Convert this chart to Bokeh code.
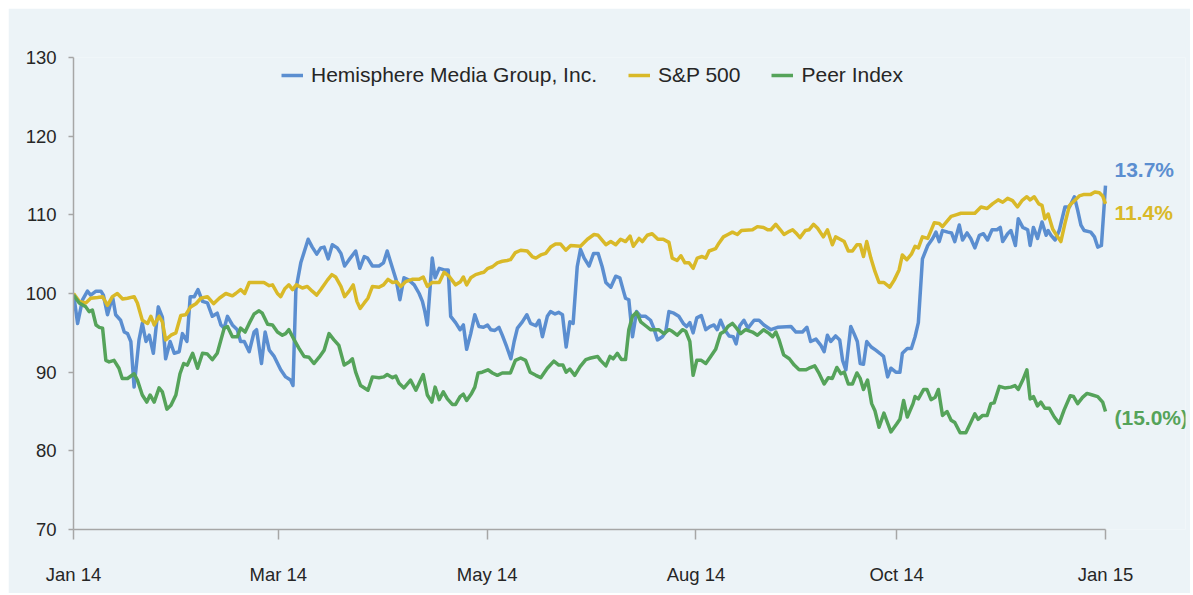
from bokeh.plotting import figure
from bokeh.models import Range1d, FixedTicker, Legend, LegendItem, ColumnDataSource
from bokeh.core.properties import value
from bokeh.embed import file_html
from bokeh.resources import INLINE

# ---- data (x = trading-day index from 31 Dec 2013, value indexed to 100) ----
TICK_POS = [0, 50, 101, 152, 201, 252]
TICK_LABELS = ["Jan 14", "Mar 14", "May 14", "Aug 14", "Oct 14", "Jan 15"]

SERIES_NAMES = ["Hemisphere Media Group, Inc.", "S&P 500", "Peer Index"]
END_LABELS = ["13.7%", "11.4%", "(15.0%)"]

hmtv_day = [0, 1, 2.2, 3.4, 4.2, 5.5, 6.7, 7.3, 8.3, 9.1, 9.6, 10.3, 11.5, 12.4, 13.2, 14.0, 14.8, 16.0, 16.8,
            17.7, 18.5, 19.5, 20.7, 21.7, 22.5, 23.6, 24.6, 25.8, 26.6, 27.7, 28.5, 29.5, 30.4, 31.5, 32.7,
            33.9, 35.1, 36.0, 36.8, 37.6, 38.8, 40.0, 40.8, 41.7, 42.9, 44.1, 44.7, 45.9, 46.8, 47.8, 49.0,
            50.6, 51.8, 53.0, 53.6, 54.3, 55.5, 57.3, 58.3, 59.4, 60.4, 61.2, 62.2, 63.2, 64.4, 65.3, 66.2,
            67.3, 68.9, 69.9, 71.0, 71.8, 73.0, 74.6, 75.7, 76.6, 77.9, 78.8, 79.7, 80.7, 81.9, 83.2, 84.4,
            85.2, 85.8, 86.4, 87.1, 87.6, 88.3, 89.3, 90.5, 91.5, 92.1, 93.3, 94.4, 95.2, 96.0, 97.0, 98.0,
            99.0, 100.1, 101.1, 101.9, 102.9, 103.9, 104.7, 105.8, 106.8, 107.6, 108.4, 109.6, 110.7, 111.6,
            112.9, 113.7, 114.5, 115.7, 116.5, 117.6, 118.5, 119.4, 120.3, 121.2, 122.0, 123.0, 123.8, 124.7,
            125.9, 127.0, 128.1, 129.1, 130.0, 131.2, 132.4, 133.4, 134.3, 134.8, 135.6, 136.5, 137.5, 138.5,
            139.7, 140.9, 141.7, 142.6, 143.8, 144.6, 145.4, 146.6, 147.8, 148.9, 149.7, 150.5, 151.3, 152.2,
            153.3, 154.4, 155.4, 156.4, 157.2, 158.0, 159.0, 160.1, 161.1, 161.8, 162.7, 163.7, 164.7, 166.2,
            167.4, 168.6, 170.3, 171.9, 175.2, 176.4, 178.0, 179.1, 180.0, 181.3, 182.5, 183.3, 184.1, 184.9,
            186.1, 187.1, 187.8, 188.6, 189.8, 190.6, 191.4, 192.1, 192.9, 193.7, 194.8, 195.9, 196.9, 197.8,
            198.8, 199.6, 200.8, 201.8, 202.4, 203.6, 204.6, 205.5, 206.3, 207.3, 208.6, 209.8, 210.6, 211.4,
            212.2, 213.5, 214.4, 215.2, 216.3, 217.1, 218.2, 219.1, 220.1, 221.2, 222.2, 223.2, 224.3, 225.5,
            226.3, 226.9, 228.1, 228.9, 230.0, 230.7, 231.8, 233.0, 233.6, 234.4, 235.4, 236.5, 237.5, 238.0,
            238.7, 239.7, 240.7, 242.1, 243.2, 244.4, 245.2, 246.0, 246.8, 248.4, 249.3, 250.1, 251.0, 251.7,
            252.0]
hmtv_val = [100.0, 96.2, 99.2, 100.3, 99.8, 100.3, 100.3, 99.8, 97.3, 98.8, 99.4, 97.3, 96.6, 95.1, 94.9, 93.9,
            88.1, 94.1, 96.2, 93.9, 94.7, 92.4, 98.3, 97.0, 91.7, 93.9, 92.4, 92.6, 94.9, 93.9, 99.6, 99.6,
            100.5, 99.0, 98.8, 97.1, 97.5, 96.0, 95.6, 97.1, 96.0, 95.4, 93.9, 93.9, 92.6, 95.1, 95.4, 91.1,
            95.1, 92.8, 92.0, 90.3, 89.4, 89.0, 88.3, 100.5, 103.9, 106.9, 105.9, 105.0, 105.8, 105.9, 104.4,
            106.2, 105.8, 105.1, 103.5, 104.3, 105.4, 103.2, 104.7, 104.5, 103.5, 103.5, 103.9, 105.4, 103.2,
            101.7, 99.2, 102.0, 101.7, 101.1, 100.0, 99.0, 97.7, 96.0, 100.9, 104.5, 102.0, 103.2, 103.0, 103.0,
            97.1, 96.3, 95.4, 96.0, 92.9, 94.9, 97.3, 95.8, 95.7, 96.0, 95.4, 95.3, 95.7, 94.7, 93.2, 91.7,
            93.9, 95.6, 96.4, 97.3, 96.2, 95.9, 96.6, 94.5, 97.1, 97.7, 97.4, 97.6, 97.3, 93.2, 96.4, 96.2,
            103.4, 105.6, 104.5, 103.5, 105.1, 105.1, 103.4, 101.4, 100.8, 102.2, 102.0, 100.3, 99.4, 99.2,
            94.5, 97.7, 97.1, 97.1, 96.6, 95.6, 94.1, 94.5, 95.1, 97.7, 97.5, 97.1, 96.2, 95.8, 96.3, 95.0,
            96.9, 97.2, 95.4, 95.8, 96.0, 95.4, 96.6, 95.4, 94.6, 94.5, 93.6, 95.9, 96.6, 95.6, 96.6, 96.6,
            96.0, 95.4, 95.7, 95.8, 95.1, 95.1, 95.7, 93.9, 94.2, 93.4, 92.6, 94.7, 93.9, 94.6, 94.1, 91.5,
            90.3, 95.8, 94.9, 93.9, 91.1, 91.0, 93.9, 93.2, 92.8, 92.4, 92.0, 89.4, 90.5, 90.0, 90.0, 92.4,
            93.0, 93.0, 94.5, 96.3, 104.4, 106.1, 107.0, 107.8, 106.6, 108.0, 107.8, 107.7, 106.6, 108.7,
            106.8, 107.7, 107.0, 105.8, 107.4, 107.6, 106.8, 108.1, 108.1, 108.4, 106.6, 107.6, 108.0, 106.1,
            109.5, 108.4, 108.1, 106.1, 108.4, 107.0, 109.1, 107.4, 108.0, 107.4, 106.8, 108.0, 111.0, 111.0,
            112.3, 110.6, 108.7, 108.0, 107.8, 107.2, 105.9, 106.1, 111.4, 113.7]

spx_day = [0, 1.4, 3.0, 4.2, 5.9, 7.1, 8.3, 9.5, 10.7, 12.0, 13.2, 14.8, 15.6, 16.8, 18.1, 18.9, 19.7, 20.9,
           21.7, 22.5, 23.8, 25.0, 26.2, 27.4, 28.6, 29.9, 31.1, 32.7, 34.2, 35.6, 37.2, 38.8, 39.6, 40.8,
           41.8, 42.9, 44.1, 46.5, 47.8, 48.6, 49.8, 50.6, 51.6, 52.6, 53.5, 54.4, 55.9, 57.1, 58.3, 59.4,
           60.4, 62.0, 63.1, 64.0, 65.3, 66.2, 67.3, 68.3, 69.2, 70.0, 71.0, 71.9, 73.0, 74.6, 75.7, 76.8,
           77.9, 78.9, 79.9, 81.1, 82.7, 84.4, 85.4, 86.4, 87.6, 89.3, 90.5, 91.7, 93.3, 94.5, 95.2, 96.0,
           97.0, 98.2, 99.4, 100.2, 101.2, 102.3, 103.5, 104.7, 105.9, 106.7, 107.9, 109.2, 110.8, 112.0,
           112.9, 114.1, 115.3, 116.5, 117.7, 118.9, 120.2, 121.4, 123.8, 125.5, 127.1, 128.1, 130.0, 131.2,
           132.4, 133.6, 134.8, 135.9, 136.7, 138.1, 138.9, 140.1, 141.3, 142.7, 144.0, 145.4, 146.2, 147.4,
           148.3, 149.3, 150.3, 151.3, 152.3, 153.5, 154.4, 155.2, 156.8, 157.6, 158.7, 159.8, 160.9, 162.1,
           163.1, 165.8, 167.0, 168.5, 169.5, 170.3, 171.5, 172.6, 173.5, 174.8, 175.6, 176.4, 177.4, 178.7,
           179.6, 180.7, 181.7, 183.1, 184.1, 185.3, 186.1, 187.2, 188.2, 189.2, 190.2, 191.3, 192.1, 192.9,
           193.7, 194.7, 195.7, 196.7, 197.9, 199.3, 200.4, 201.6, 202.4, 203.5, 204.6, 205.5, 206.3, 207.3,
           208.6, 210.2, 211.4, 212.2, 214.3, 215.5, 216.7, 220.1, 221.6, 223.1, 224.4, 225.8, 226.9, 228.1,
           229.3, 230.5, 231.6, 232.8, 233.6, 234.6, 235.7, 236.5, 237.2, 238.0, 239.1, 240.3, 241.1, 242.1,
           243.2, 244.4, 245.6, 246.8, 248.4, 249.4, 250.5, 251.3, 252.0]
spx_val = [100.0, 99.0, 98.8, 99.4, 99.5, 99.6, 98.5, 99.6, 100.0, 99.3, 99.4, 99.6, 98.8, 96.6, 96.2, 97.1,
           96.0, 97.1, 96.4, 94.1, 94.7, 95.0, 97.2, 97.3, 98.3, 98.7, 99.4, 99.6, 98.7, 99.4, 100.0, 99.7,
           100.0, 100.5, 100.0, 101.4, 101.4, 101.4, 101.0, 101.1, 100.0, 99.6, 100.6, 101.1, 100.5, 101.1,
           100.7, 100.9, 100.3, 99.8, 100.5, 101.7, 102.4, 102.1, 100.9, 99.6, 100.3, 101.1, 99.0, 98.1, 98.8,
           99.4, 100.9, 100.8, 101.1, 101.8, 101.4, 101.5, 100.9, 101.5, 101.8, 101.8, 102.1, 100.9, 101.4,
           101.4, 102.7, 102.2, 101.1, 101.5, 102.1, 101.1, 102.0, 102.4, 102.6, 102.7, 103.2, 103.4, 103.9,
           104.1, 104.2, 104.3, 105.2, 105.5, 105.4, 104.7, 104.5, 104.9, 105.1, 105.9, 106.3, 106.3, 105.5,
           106.1, 106.0, 106.9, 107.5, 107.4, 106.2, 106.6, 106.2, 106.9, 106.6, 107.3, 106.0, 107.0, 106.6,
           107.4, 107.6, 106.9, 106.9, 106.5, 104.5, 104.2, 104.8, 103.9, 103.9, 103.2, 104.5, 104.7, 104.5,
           105.4, 105.7, 106.4, 107.2, 107.5, 107.8, 107.5, 108.0, 108.1, 108.5, 108.4, 108.1, 108.1, 108.8,
           108.1, 107.5, 107.9, 108.1, 107.7, 107.1, 108.0, 108.1, 108.8, 108.3, 107.2, 108.1, 106.2, 107.2,
           106.9, 106.6, 105.4, 105.4, 106.2, 106.2, 104.7, 106.6, 104.5, 102.8, 101.4, 101.4, 100.8, 101.7,
           103.0, 104.9, 104.3, 105.0, 106.0, 105.8, 107.2, 107.0, 109.0, 108.9, 108.5, 109.8, 110.0, 110.2,
           110.2, 111.0, 110.8, 111.4, 111.9, 111.6, 112.1, 111.8, 111.0, 111.8, 112.3, 111.9, 112.3, 111.4,
           111.2, 109.5, 110.1, 108.2, 107.2, 106.6, 108.9, 111.2, 111.8, 112.4, 112.6, 112.6, 112.9, 112.8,
           112.4, 111.4]

peer_day = [0, 1.4, 3.0, 3.8, 4.6, 5.5, 6.3, 7.1, 7.9, 8.7, 9.9, 11.1, 11.9, 13.2, 14.8, 15.6, 16.8, 17.9,
            18.7, 19.7, 20.9, 21.7, 22.8, 23.8, 25.0, 26.0, 26.9, 27.8, 29.1, 30.3, 31.5, 32.7, 33.9, 35.1,
            36.8, 37.6, 38.8, 40.0, 40.8, 41.9, 42.9, 44.1, 45.3, 46.1, 47.4, 48.6, 49.8, 51.0, 51.8, 52.6,
            53.9, 55.1, 56.3, 57.5, 58.7, 60.0, 61.2, 62.4, 63.6, 64.8, 66.1, 67.3, 68.1, 68.9, 70.1, 71.9,
            73.0, 74.6, 75.8, 76.6, 77.9, 78.7, 79.5, 80.7, 82.3, 83.6, 84.4, 85.4, 86.4, 87.5, 88.3, 89.3,
            90.3, 91.3, 92.5, 93.3, 94.4, 95.2, 96.0, 97.2, 98.0, 98.8, 99.8, 101.2, 102.3, 103.5, 104.7,
            106.7, 107.9, 109.2, 110.4, 111.5, 112.9, 114.1, 115.7, 117.3, 118.5, 119.5, 120.3, 121.2, 122.4,
            123.7, 125.1, 126.3, 128.0, 128.7, 130.0, 131.0, 131.8, 132.8, 133.8, 134.8, 135.6, 136.5, 137.5,
            138.5, 139.7, 140.9, 142.9, 144.2, 145.4, 146.2, 147.4, 148.7, 149.5, 150.5, 151.3, 152.2, 153.3,
            154.4, 155.6, 156.8, 158.0, 159.0, 159.8, 160.9, 161.9, 162.9, 164.1, 165.8, 167.0, 168.5, 169.9,
            170.7, 171.5, 172.3, 173.4, 174.8, 176.0, 177.2, 178.8, 179.6, 181.0, 182.1, 183.3, 184.3, 185.3,
            186.4, 187.4, 188.2, 189.2, 190.2, 191.3, 192.1, 192.9, 193.9, 194.9, 195.7, 196.7, 197.9, 199.6,
            201.0, 201.8, 202.7, 203.6, 205.0, 205.5, 206.3, 207.6, 208.4, 209.4, 210.4, 211.2, 212.2, 213.3,
            214.3, 215.2, 216.5, 217.9, 219.1, 220.1, 220.9, 222.0, 223.1, 224.0, 224.8, 226.1, 227.4, 228.9,
            229.9, 230.7, 231.8, 232.8, 233.6, 234.4, 235.4, 236.2, 237.2, 238.3, 239.5, 240.7, 241.9, 243.4,
            244.2, 245.2, 246.4, 247.5, 248.8, 250.1, 251.3, 252.0]
peer_val = [99.8, 98.8, 98.3, 97.7, 97.9, 96.0, 95.7, 95.6, 91.5, 91.3, 91.5, 90.5, 89.2, 89.2, 89.8, 89.0,
            87.1, 86.2, 87.1, 86.2, 88.0, 87.5, 85.3, 85.8, 87.1, 89.8, 91.1, 90.9, 92.4, 90.5, 92.4, 92.3,
            91.6, 92.4, 95.6, 95.8, 94.5, 94.5, 95.6, 95.1, 96.2, 97.4, 97.8, 97.5, 96.1, 96.0, 95.1, 94.7,
            94.9, 95.4, 94.1, 93.0, 92.0, 91.9, 91.1, 91.9, 92.8, 94.9, 94.1, 93.4, 90.9, 91.3, 91.7, 90.0,
            88.3, 87.7, 89.4, 89.3, 89.4, 89.7, 89.3, 89.5, 88.6, 88.0, 89.0, 87.7, 88.6, 89.7, 87.1, 86.2,
            88.1, 86.5, 87.5, 86.6, 85.9, 85.9, 86.9, 87.2, 86.4, 87.3, 88.1, 89.9, 90.0, 90.3, 89.9, 89.6,
            89.9, 89.9, 91.5, 91.8, 91.5, 90.0, 89.6, 89.3, 90.5, 91.4, 90.9, 90.9, 90.0, 90.4, 89.6, 90.7,
            91.6, 91.8, 92.0, 91.5, 90.8, 92.0, 91.7, 92.4, 91.6, 91.6, 95.4, 97.1, 97.6, 96.4, 95.9, 95.4,
            95.4, 94.9, 95.4, 95.2, 94.7, 95.4, 95.2, 93.9, 89.6, 91.5, 91.5, 91.1, 92.0, 92.9, 94.9, 95.2,
            95.8, 96.2, 95.6, 94.9, 95.4, 95.1, 94.7, 95.4, 94.9, 94.5, 95.1, 94.1, 92.2, 91.7, 90.9, 90.3,
            90.3, 90.5, 90.8, 89.8, 88.5, 89.3, 89.2, 90.6, 89.8, 90.0, 88.5, 88.5, 89.9, 89.2, 87.8, 89.0,
            86.0, 85.1, 83.0, 84.8, 82.4, 83.4, 84.0, 86.4, 84.3, 86.0, 86.9, 86.6, 87.8, 87.8, 86.5, 86.8,
            87.8, 84.5, 85.0, 83.9, 83.6, 82.3, 82.3, 83.6, 84.7, 84.0, 84.5, 84.5, 86.0, 86.1, 88.2, 88.0,
            88.1, 88.3, 87.8, 89.0, 90.3, 86.6, 86.9, 85.7, 86.2, 85.4, 85.4, 84.3, 83.5, 85.2, 87.0, 86.9,
            86.0, 86.8, 87.3, 87.1, 86.9, 86.2, 85.0]

# ---- styling ----
BG = "#ECF3F7"
COLORS = ["#5B8ED0", "#D9B928", "#55A35A"]
FONT = "Liberation Sans"
TEXT = "#262626"
AXIS = "#A6A6A6"

W, H = 1182, 585
LEFT, RIGHT, TOP, BOTTOM = 65, 5, 49, 64
AXIS_PX = 1032                      # pixel length of the date axis
frame_w = W - LEFT - RIGHT
x_end = TICK_POS[-1] * frame_w / AXIS_PX   # room right of the axis for end labels

p = figure(width=W, height=H, output_backend="svg", toolbar_location=None,
           x_range=Range1d(0, x_end), y_range=Range1d(70, 130),
           min_border_left=LEFT, min_border_right=RIGHT, min_border_top=TOP, min_border_bottom=BOTTOM)
p.margin = (8, 0, 0, 8)
p.background_fill_color = BG
p.border_fill_color = BG
p.outline_line_color = None
p.grid.grid_line_color = None

for ax in (p.xaxis[0], p.yaxis[0]):
    ax.axis_line_color = AXIS
    ax.axis_line_width = 1.5
    ax.major_tick_line_color = AXIS
    ax.major_tick_line_width = 1.5
    ax.minor_tick_line_color = None
    ax.major_tick_in = 0
    ax.major_label_text_font = FONT
    ax.major_label_text_font_size = "18.5px"
    ax.major_label_text_color = TEXT

p.xaxis.ticker = FixedTicker(ticks=TICK_POS)
p.xaxis.bounds = (TICK_POS[0], TICK_POS[-1])
p.xaxis.major_label_overrides = {t: l for t, l in zip(TICK_POS, TICK_LABELS)}
p.xaxis.major_tick_out = 10
p.xaxis.major_label_standoff = 24

p.yaxis.ticker = FixedTicker(ticks=[70, 80, 90, 100, 110, 120, 130])
p.yaxis.major_tick_out = 5
p.yaxis.major_label_standoff = 12

series = [(hmtv_day, hmtv_val), (spx_day, spx_val), (peer_day, peer_val)]
items = []
for (xs, ys), name, color in zip(series, SERIES_NAMES, COLORS):
    r = p.line(xs, ys, line_color=color, line_width=3.5, line_join="round")
    items.append(LegendItem(label=name, renderers=[r]))

legend = Legend(items=items, orientation="horizontal", location=(208, 442),
                border_line_color=None, background_fill_alpha=0,
                label_text_font=FONT, label_text_font_size="21px", label_text_color=TEXT,
                glyph_width=22, label_standoff=8, spacing=31, padding=6, margin=0)
p.add_layout(legend, "center")

end_src = ColumnDataSource(dict(
    x=[s[0][-1] for s in series],
    y=[s[1][-1] for s in series],
    text=END_LABELS,
    color=COLORS,
    dy=[-16, 9, 6],
))
p.text(x="x", y="y", text="text", source=end_src, text_color="color", y_offset="dy",
       x_offset=9, text_font=value(FONT), text_font_style="bold", text_font_size="21px",
       text_baseline="middle", text_align="left")

open("out.html", "w").write(file_html(p, INLINE))
